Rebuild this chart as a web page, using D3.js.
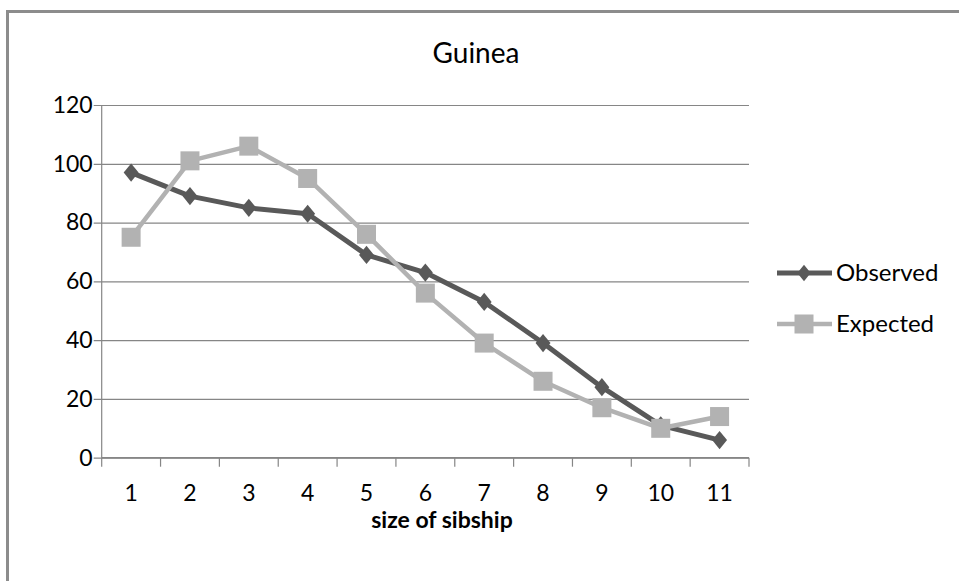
<!DOCTYPE html>
<html>
<head>
<meta charset="utf-8">
<script src="https://cdn.jsdelivr.net/npm/d3@7"></script>
<style>
  html, body { margin: 0; padding: 0; background: #fff; }
  svg { display: block; }
  text { font-family: Lato, "Open Sans", sans-serif; fill: #000; }
</style>
</head>
<body>
<svg id="chart" width="959" height="581"></svg>
<script>
// Sibship sizes and observed / expected counts for Guinea
const categories = ["1", "2", "3", "4", "5", "6", "7", "8", "9", "10", "11"];
const observed = [97, 89, 85, 83, 69, 63, 53, 39, 24, 11, 6];
const expected = [75, 101, 106, 95, 76, 56, 39, 26, 17, 10, 14];
const yTicks = [0, 20, 40, 60, 80, 100, 120];
const seriesNames = ["Observed", "Expected"];

const svg = d3.select("#chart");

// outer chart frame
svg.append("rect")
  .attr("x", 7.5).attr("y", 11.5)
  .attr("width", 1000).attr("height", 700)
  .attr("fill", "#fff")
  .attr("stroke", "#8c8c8c").attr("stroke-width", 3);

const plot = { left: 101.7, right: 749, top: 105, bottom: 457.7 };

const x = d3.scaleBand().domain(categories).range([plot.left, plot.right]);
const y = d3.scaleLinear().domain([0, 120]).range([plot.bottom, plot.top]);

const gridColor = "#868686";
const labelSize = 23;

// horizontal gridlines + y tick labels
const yAxis = d3.axisLeft(y).tickValues(yTicks).tickSize(-(plot.right - plot.left)).tickPadding(10);
const gy = svg.append("g").attr("transform", `translate(${plot.left},0)`).call(yAxis);
gy.select(".domain").remove();
gy.selectAll(".tick line").attr("stroke", gridColor).attr("stroke-width", 1.2).attr("x1", -8);
gy.selectAll(".tick text").attr("font-size", labelSize).attr("font-family", "Lato, sans-serif").attr("x", -9);

// y axis line
svg.append("line")
  .attr("x1", plot.left).attr("x2", plot.left)
  .attr("y1", plot.top).attr("y2", plot.bottom)
  .attr("stroke", gridColor).attr("stroke-width", 1.2);

// x axis with tick marks at band edges
svg.append("line")
  .attr("x1", plot.left).attr("x2", plot.right)
  .attr("y1", plot.bottom).attr("y2", plot.bottom)
  .attr("stroke", gridColor).attr("stroke-width", 1.5);
const edges = categories.map(c => x(c)).concat([plot.right]);
svg.append("g").selectAll("line").data(edges).join("line")
  .attr("x1", d => d).attr("x2", d => d)
  .attr("y1", plot.bottom).attr("y2", plot.bottom + 9)
  .attr("stroke", gridColor).attr("stroke-width", 1.2);
svg.append("g").selectAll("text").data(categories).join("text")
  .attr("x", d => x(d) + x.bandwidth() / 2)
  .attr("y", 501)
  .attr("text-anchor", "middle")
  .attr("font-size", labelSize)
  .text(d => d);

// title and axis title
svg.append("text").attr("x", 476).attr("y", 63).attr("text-anchor", "middle")
  .attr("font-size", 28).text("Guinea");
svg.append("text").attr("x", 442).attr("y", 528).attr("text-anchor", "middle")
  .attr("font-size", 23).attr("font-weight", "bold").text("size of sibship");

const cx = c => x(c) + x.bandwidth() / 2;
const line = d3.line().x((d, i) => cx(categories[i])).y(d => y(d));

const diamond = d3.symbol().type(d3.symbolDiamond2).size(175);

// Observed series
const obsColor = "#595959";
svg.append("path").datum(observed)
  .attr("d", line).attr("fill", "none")
  .attr("stroke", obsColor).attr("stroke-width", 5).attr("stroke-linejoin", "round");
svg.append("g").selectAll("path").data(observed).join("path")
  .attr("transform", (d, i) => `translate(${cx(categories[i])},${y(d)}) scale(0.9,1.1)`)
  .attr("d", diamond).attr("fill", obsColor);

// Expected series
const expColor = "#b2b2b2";
const sq = 19;
svg.append("path").datum(expected)
  .attr("d", line).attr("fill", "none")
  .attr("stroke", expColor).attr("stroke-width", 4.5).attr("stroke-linejoin", "round");
svg.append("g").selectAll("rect").data(expected).join("rect")
  .attr("x", (d, i) => cx(categories[i]) - sq / 2)
  .attr("y", d => y(d) - sq / 2)
  .attr("width", sq).attr("height", sq)
  .attr("fill", expColor);

// legend
const legend = svg.append("g");
const legendY = [273, 324];
const colors = [obsColor, expColor];
seriesNames.forEach((name, i) => {
  const ly = legendY[i];
  legend.append("line").attr("x1", 777).attr("x2", 832).attr("y1", ly).attr("y2", ly)
    .attr("stroke", colors[i]).attr("stroke-width", i === 0 ? 5 : 4.5);
  if (i === 0) {
    legend.append("path").attr("transform", `translate(804,${ly}) scale(0.8,1.0)`)
      .attr("d", diamond).attr("fill", colors[i]);
  } else {
    legend.append("rect").attr("x", 804 - sq / 2).attr("y", ly - sq / 2)
      .attr("width", sq).attr("height", sq).attr("fill", colors[i]);
  }
  legend.append("text").attr("x", 836).attr("y", ly + 8)
    .attr("font-size", 24).text(name);
});
</script>
</body>
</html>
